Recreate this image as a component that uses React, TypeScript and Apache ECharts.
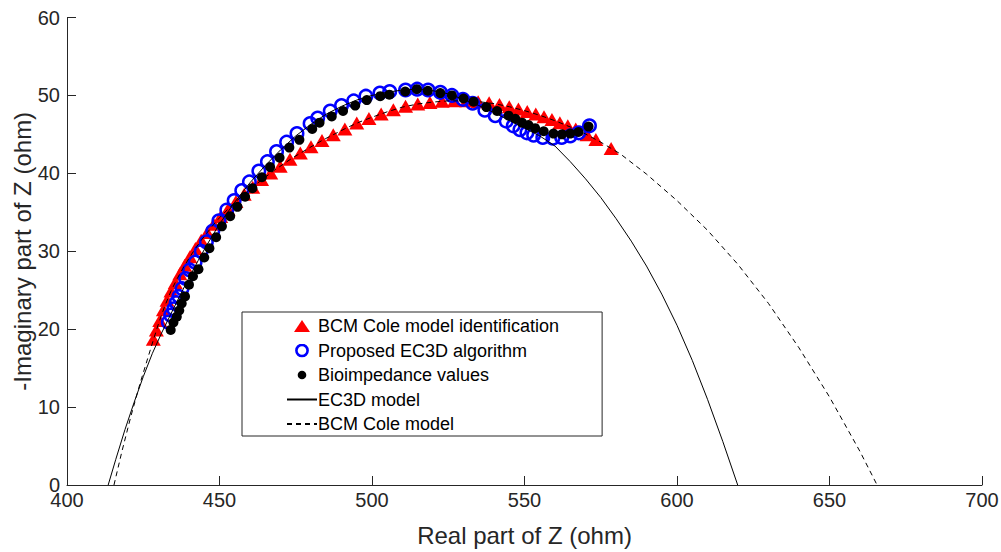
import React, { useEffect, useRef } from "react";
import * as echarts from "echarts";

// Bioimpedance values (measured) [real, -imag]
const bioX = [434.0,434.9,436.0,436.8,437.6,438.7,440.0,441.3,443.1,445.0,446.7,448.9,450.8,453.5,455.9,458.4,460.8,463.9,466.6,469.7,472.9,476.2,480.4,482.8,486.8,490.5,494.5,498.3,502.7,505.7,510.9,514.7,518.3,522.4,526.2,530.0,533.3,537.5,541.0,544.8,547.0,549.2,551.3,553.5,556.3,559.5,562.3,565.0,567.7,571.0];
const bioY = [19.9,20.85,21.6,22.4,23.3,24.2,25.7,26.8,27.7,29.2,30.4,31.8,33.2,34.5,35.7,37.0,38.1,39.5,40.8,42.0,43.3,44.3,45.7,46.5,47.3,48.0,48.7,49.4,49.9,50.1,50.5,50.8,50.6,50.3,50.0,49.6,49.2,48.5,48.0,47.4,47.0,46.5,46.2,45.8,45.4,45.1,45.0,45.1,45.3,46.0];

// Proposed EC3D algorithm
const ec3dX = [433.2,434.0,435.0,435.8,436.7,437.7,438.9,440.2,442.0,444.0,445.7,447.8,449.8,452.4,454.8,457.3,459.8,462.9,465.7,468.7,472.0,475.4,479.7,482.2,486.3,490.0,494.0,498.0,502.6,505.8,511.0,514.8,518.4,522.4,526.2,529.8,533.0,537.0,540.4,544.0,546.3,548.5,550.8,553.0,556.0,559.3,562.2,565.0,567.8,571.3];
const ec3dY = [20.9,21.8,22.6,23.4,24.2,25.2,26.5,27.6,28.6,30.0,31.2,32.6,33.9,35.3,36.5,37.8,38.9,40.3,41.5,42.8,44.0,45.1,46.4,47.1,48.0,48.7,49.3,49.9,50.3,50.5,50.7,50.8,50.7,50.4,50.0,49.5,49.0,48.1,47.4,46.7,46.1,45.6,45.2,44.9,44.6,44.5,44.6,44.8,45.2,46.1];

// BCM Cole model identification
const bcmX = [428.3,429.3,430.4,431.6,432.8,434.1,435.5,437.0,438.6,440.3,442.1,444.0,446.0,448.1,450.4,452.8,455.4,458.1,460.9,463.8,466.8,469.9,473.1,476.5,480.0,483.6,487.3,491.1,495.0,499.0,503.0,507.0,511.0,515.0,519.0,523.0,527.0,531.0,534.8,538.4,541.8,545.0,548.0,550.9,553.7,556.4,559.0,561.6,564.2,566.8,570.5,573.4,578.4];
const bcmY = [18.7,19.9,21.1,22.5,23.7,24.9,26.0,27.1,28.2,29.3,30.35,31.4,32.4,33.45,34.45,35.4,36.4,37.3,38.2,39.2,40.05,40.9,41.8,42.6,43.4,44.2,44.95,45.7,46.45,47.05,47.6,48.15,48.6,48.9,49.1,49.25,49.3,49.3,49.2,49.05,48.85,48.55,48.25,47.95,47.6,47.25,46.9,46.5,46.1,45.7,44.95,44.35,43.2];

// EC3D model curve
const ec3dModelX = [413.5,416,419,422,425,428,431,434,437,440,443,446,450,455,460,465,470,475,480,485,490,495,500,505,510,515,520,525,530,535,540,545,550,555,560,565,570,575,580,585,590,595,600,605,610,615,619.9];
const ec3dModelY = [0,3.3,7.1,10.6,13.9,16.9,19.5,21.9,24.3,26.6,28.8,30.9,33.5,36.3,38.8,41.0,43.0,44.8,46.3,47.6,48.6,49.4,50.0,50.4,50.7,50.8,50.6,50.2,49.5,48.7,47.8,46.8,45.8,44.8,43.5,41.5,39.3,36.9,34.2,31.3,28.1,24.5,20.5,16.0,11.0,5.6,0];

// BCM Cole model curve
const bcmModelX = [415.4,418,421,424,426.5,428.3,430,432,434,436,438,440,442,444,446,448,450,453,456,459,462,465,468,471,474,477,480,484,488,492,496,500,505,510,515,520,525,530,535,540,545,550,555,560,565,570,575,581.4,590,600,610,620,630,640,650,660,665.6];
const bcmModelY = [0,4.3,8.9,13.1,16.3,18.6,20.7,22.9,24.8,26.4,27.8,29.1,30.3,31.4,32.4,33.4,34.3,35.5,36.6,37.6,38.6,39.5,40.4,41.2,42.0,42.7,43.4,44.3,45.1,45.9,46.6,47.2,47.9,48.5,48.9,49.15,49.3,49.3,49.2,48.95,48.55,48.05,47.45,46.75,45.95,45.05,44.0,42.5,39.9,36.5,32.7,28.3,23.3,17.6,11.3,4.3,0];

const xTicks = { min: 400, max: 700, interval: 50 };
const yTicks = { min: 0, max: 60, interval: 10 };

const zip = (xs: number[], ys: number[]) => xs.map((x, i) => [x, ys[i]]);

const FONT = "'Liberation Sans', Arial, Helvetica, sans-serif";
const AXIS = "#262626";

const svgIcon = (w: number, h: number, body: string) =>
  "image://data:image/svg+xml;charset=utf-8," +
  encodeURIComponent(
    `<svg xmlns="http://www.w3.org/2000/svg" width="${w}" height="${h}" viewBox="0 0 ${w} ${h}">${body}</svg>`
  );

const triIcon = svgIcon(16, 14, '<polygon points="0,13 8,1 16,13" fill="#ff0000"/>');
const ringIcon = svgIcon(14, 14, '<circle cx="7" cy="7" r="5.6" fill="none" stroke="#0000ff" stroke-width="2.6"/>');
const dotIcon = svgIcon(14, 14, '<circle cx="7" cy="7" r="4.3" fill="#000"/>');

export default function App() {
  const ref = useRef<HTMLDivElement>(null);
  useEffect(() => {
    document.body.style.margin = "0";
    if (!ref.current) return;
    const chart = echarts.init(ref.current, undefined, { renderer: "svg" });
    const axisCommon = {
      type: "value" as const,
      nameLocation: "middle" as const,
      nameMoveOverlap: false,
      nameTextStyle: { fontSize: 24, fontFamily: FONT, color: AXIS },
      axisLine: { show: true, lineStyle: { color: AXIS, width: 1 } },
      axisTick: { show: true, inside: true, length: 9, lineStyle: { color: AXIS } },
      axisLabel: { fontSize: 20, fontFamily: FONT, color: AXIS },
      splitLine: { show: false },
    };
    chart.setOption({
      animation: false,
      backgroundColor: "#ffffff",
      grid: {
        left: 67,
        right: 19,
        top: 17.5,
        bottom: 67,
        containLabel: false,
        outerBoundsMode: "none",
      },
      xAxis: {
        ...axisCommon,
        ...xTicks,
        name: "Real part of Z (ohm)",
        nameGap: 38,
        axisLabel: { ...axisCommon.axisLabel, margin: 5 },
      },
      yAxis: {
        ...axisCommon,
        ...yTicks,
        name: "-Imaginary part of Z (ohm)",
        nameGap: 33,
        axisLabel: { ...axisCommon.axisLabel, margin: 7 },
      },
      legend: {
        orient: "vertical",
        left: 242,
        top: 312,
        padding: [5, 43, 3, 44],
        itemWidth: 30,
        itemHeight: 14,
        itemGap: 6.5,
        backgroundColor: "#ffffff",
        borderColor: AXIS,
        borderWidth: 1,
        borderRadius: 0,
        textStyle: { fontSize: 18, fontFamily: FONT, color: "#000", padding: [0, 0, 0, -4] },
        data: [
          { name: "BCM Cole model identification", icon: triIcon },
          { name: "Proposed EC3D algorithm", icon: ringIcon },
          { name: "Bioimpedance values", icon: dotIcon },
          { name: "EC3D model", itemStyle: { opacity: 0 } },
          { name: "BCM Cole model", itemStyle: { opacity: 0 } },
        ],
      },
      tooltip: { show: false },
      series: [
        {
          name: "BCM Cole model identification",
          type: "scatter",
          symbol: "triangle",
          symbolSize: [15, 13],
          itemStyle: { color: "#ff0000", opacity: 1 },
          data: zip(bcmX, bcmY),
          silent: true,
        },
        {
          name: "Proposed EC3D algorithm",
          type: "scatter",
          symbol: "circle",
          symbolSize: 12.5,
          itemStyle: { color: "rgba(255,255,255,0)", borderColor: "#0000ff", borderWidth: 2.5, opacity: 1 },
          data: zip(ec3dX, ec3dY),
          silent: true,
        },
        {
          name: "Bioimpedance values",
          type: "scatter",
          symbol: "circle",
          symbolSize: 10,
          itemStyle: { color: "#000000", opacity: 1 },
          data: zip(bioX, bioY),
          silent: true,
        },
        {
          name: "EC3D model",
          type: "line",
          showSymbol: false,
          symbol: "none",
          smooth: false,
          lineStyle: { color: "#000000", width: 1 },
          itemStyle: { color: "#000000" },
          data: zip(ec3dModelX, ec3dModelY),
          silent: true,
        },
        {
          name: "BCM Cole model",
          type: "line",
          showSymbol: false,
          symbol: "none",
          smooth: false,
          lineStyle: { color: "#000000", width: 1, type: [5, 4] },
          itemStyle: { color: "#000000" },
          data: zip(bcmModelX, bcmModelY),
          silent: true,
        },
      ],
    });
    return () => chart.dispose();
  }, []);
  return (
    <div
      ref={ref}
      style={{ position: "absolute", left: 0, top: 0, width: 1001, height: 552, background: "#fff" }}
    />
  );
}
